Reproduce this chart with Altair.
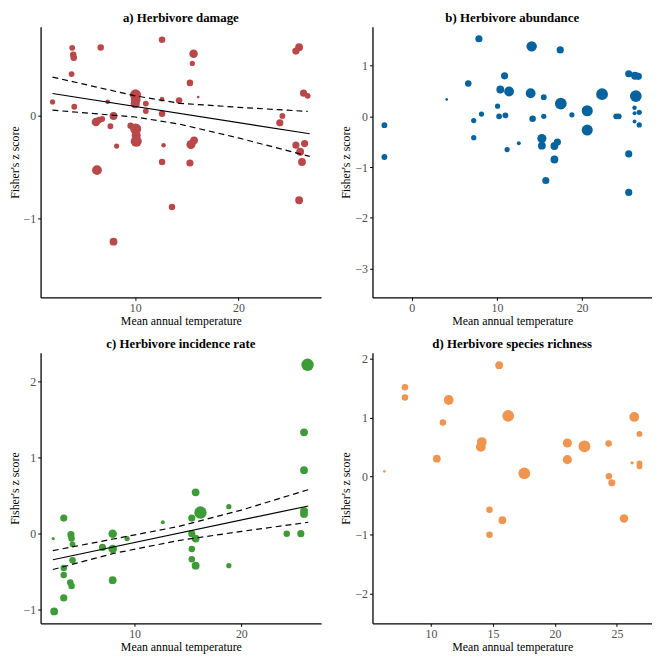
import altair as alt
import pandas as pd

FONT = "Liberation Serif"

# ---------------- a) Herbivore damage ----------------
a_temp = [2.0, 3.9, 4.0, 4.05, 3.84, 4.1, 6.66, 7.34, 6.2, 6.5, 6.8, 7.9, 7.6, 8.2, 6.3, 7.9,
          10.03, 10.05, 10.0, 9.56, 10.05, 10.1, 10.1, 11.03, 11.03, 12.6, 12.6, 12.6, 12.75, 12.6,
          13.56, 14.25, 15.65, 15.53, 15.3, 16.1, 15.4, 15.7, 15.3, 25.87, 25.56, 26.3, 26.7, 24.25,
          24.0, 25.56, 26.4, 25.97, 26.15, 25.87]
a_z = [0.137, 0.667, 0.60, 0.57, 0.41, 0.09, 0.67, 0.14, -0.06, -0.04, -0.03, 0.0, -0.10, -0.295, -0.53, -1.23,
       0.207, 0.16, 0.12, -0.095, -0.127, -0.19, -0.248, 0.121, 0.048, 0.746, 0.165, 0.022, -0.286, -0.45,
       -0.89, 0.152, 0.61, 0.514, 0.324, 0.185, -0.28, -0.238, -0.46, 0.673, 0.635, 0.223, 0.197, 0.0,
       -0.067, -0.286, -0.27, -0.35, -0.45, -0.825]
a_w = [8, 9, 10, 10, 9, 9, 10, 7, 13, 10, 9, 12, 9, 8, 15, 12,
       17, 15, 14, 10, 17, 14, 17, 9, 9, 10, 7, 10, 7, 10,
       10, 10, 13, 8, 10, 4, 14, 12, 11, 12, 11, 11, 9, 9,
       11, 11, 11, 12, 12, 12]
a_fit_x = [1.99, 26.9]
a_fit_y = [0.22, -0.174]
a_up_x = [1.99, 10.0, 14.3, 20.0, 26.7]
a_up_y = [0.381, 0.197, 0.124, 0.085, 0.045]
a_lo_x = [1.99, 10.0, 14.3, 20.0, 26.9]
a_lo_y = [0.057, -0.01, -0.08, -0.215, -0.396]

# ---------------- b) Herbivore abundance ----------------
b_temp = [-3.2, -3.2, 4.11, 6.64, 7.28, 7.28, 7.89, 8.19, 10.08, 10.26, 10.4, 10.9, 11.0, 11.2, 11.43,
          12.57, 14.08, 13.96, 14.19, 15.5, 15.5, 15.28, 15.28, 15.74, 16.75, 17.1, 16.75, 17.43, 17.5,
          18.8, 20.6, 20.6, 22.34, 24.0, 24.3, 25.47, 26.2, 26.6, 26.3, 26.15, 26.15, 26.15, 26.7, 26.7,
          25.47, 25.47]
b_z = [-0.173, -0.80, 0.334, 0.648, -0.083, -0.42, 1.53, 0.045, 0.2, 0.0, 0.53, 0.80, 0.02, -0.655, 0.49,
       -0.53, 1.38, 0.456, -0.045, 0.379, 0.0, -0.437, -0.578, -1.265, -0.584, -0.507, -0.85, 1.31, 0.25,
       0.03, 0.11, -0.27, 0.437, 0.0, 0.0, 0.84, 0.80, 0.79, 0.40, 0.17, 0.06, -0.10, 0.08, -0.17,
       -0.74, -1.50]
b_w = [9, 9, 4, 10, 8, 8, 11, 8, 8, 9, 12, 11, 9, 8, 15,
       6, 16, 15, 10, 9, 8, 14, 12, 11, 12, 11, 12, 11, 18,
       8, 17, 17, 18, 9, 9, 11, 12, 11, 18, 7, 6, 6, 8, 8,
       11, 11]

# ---------------- c) Herbivore incidence rate ----------------
c_temp = [2.38, 2.47, 3.37, 3.37, 3.37, 3.37, 4.04, 4.1, 4.19, 4.19, 3.98, 4.1, 7.0, 7.95, 7.95, 9.3,
          7.95, 12.65, 15.72, 16.17, 15.36, 15.36, 15.72, 15.36, 15.36, 15.72, 18.83, 18.83, 24.25,
          25.57, 25.87, 25.87, 25.87, 25.87, 26.2]
c_z = [-0.064, -1.02, 0.205, -0.45, -0.543, -0.843, -0.013, -0.064, -0.14, -0.35, -0.64, -0.685, -0.18, 0.0,
       -0.2, -0.064, -0.61, 0.15, 0.543, 0.278, 0.205, 0.0, -0.064, -0.2, -0.334, -0.42, 0.355, -0.42, 0.0,
       0.0, 0.26, 0.30, 0.834, 1.33, 2.217]
c_w = [5, 12, 11, 10, 10, 11, 11, 10, 9, 10, 10, 10, 11, 13, 13, 8,
       12, 6, 12, 19, 11, 11, 12, 10, 10, 12, 8, 8, 10,
       11, 12, 12, 12, 12, 19]
c_fit_x = [2.35, 26.27]
c_fit_y = [-0.342, 0.364]
c_up_x = [2.35, 8.0, 14.1, 20.0, 26.27]
c_up_y = [-0.222, -0.07, 0.095, 0.31, 0.578]
c_lo_x = [2.35, 8.0, 14.1, 20.0, 26.27]
c_lo_y = [-0.47, -0.26, -0.09, 0.03, 0.15]

# ---------------- d) Herbivore species richness ----------------
d_temp = [6.24, 7.9, 7.9, 10.47, 10.96, 11.43, 14.1, 14.02, 14.72, 14.72, 15.5, 15.76, 16.23, 17.53,
          21.0, 21.0, 22.38, 24.33, 24.35, 24.59, 25.57, 26.22, 26.4, 26.82, 26.82, 26.82]
d_z = [0.083, 1.517, 1.344, 0.3, 0.917, 1.3, 0.583, 0.5, -0.572, -1.0, 1.894, -0.75, 1.028, 0.05,
       0.567, 0.283, 0.511, 0.556, 0.0, -0.111, -0.722, 0.228, 1.011, 0.722, 0.22, 0.17]
d_w = [4, 10, 10, 12, 10, 15, 15, 15, 10, 10, 12, 12, 18, 18,
       14, 14, 18, 10, 10, 11, 13, 5, 15, 9, 9, 9]

RED = "#B9484A"
BLUE = "#07639E"
GREEN = "#3E9C38"
ORANGE = "#EF9550"

AXIS_X = "Mean annual temperature"
AXIS_Y = "Fisher's z score"


def panel(temp, z, w, title, color, xdom, ydom, xticks, yticks, width, height, fits=None):
    df = pd.DataFrame({"temp": temp, "z": z, "w": w})
    x = alt.X("temp:Q", scale=alt.Scale(domain=xdom, nice=False, zero=False),
              axis=alt.Axis(values=xticks, title=AXIS_X, format="d"))
    y = alt.Y("z:Q", scale=alt.Scale(domain=ydom, nice=False, zero=False),
              axis=alt.Axis(values=yticks, title=AXIS_Y, format="d"))
    pts = alt.Chart(df).mark_circle(color=color, opacity=1).encode(
        x=x, y=y,
        size=alt.Size("w:Q", scale=alt.Scale(type="pow", exponent=2, domain=[0, 20], range=[0, 175]),
                      legend=None),
    )
    layers = [pts]
    if fits:
        for xs, ys, dashed in fits:
            ldf = pd.DataFrame({"temp": xs, "z": ys})
            kw = {"color": "black", "strokeWidth": 1.2}
            if dashed:
                kw["strokeDash"] = [6, 4]
            layers.append(alt.Chart(ldf).mark_line(**kw).encode(
                x=alt.X("temp:Q"), y=alt.Y("z:Q")))
    return alt.layer(*layers).properties(
        width=width, height=height,
        title=alt.TitleParams(title, anchor="middle", frame="group"),
    )


W1, W2, H = 284, 283, 274

pa = panel(a_temp, a_z, a_w, "a) Herbivore damage", RED, [0.84, 28.0], [-1.776, 0.873],
           [10, 20], [-1, 0], W1, H,
           fits=[(a_fit_x, a_fit_y, False), (a_up_x, a_up_y, True), (a_lo_x, a_lo_y, True)])
pb = panel(b_temp, b_z, b_w, "b) Herbivore abundance", BLUE, [-4.6, 28.2], [-3.57, 1.766],
           [0, 10, 20], [-3, -2, -1, 0, 1], W2, H)
pc = panel(c_temp, c_z, c_w, "c) Herbivore incidence rate", GREEN, [1.2, 27.47], [-1.177, 2.375],
           [10, 20], [-1, 0, 1, 2], W1, H,
           fits=[(c_fit_x, c_fit_y, False), (c_up_x, c_up_y, True), (c_lo_x, c_lo_y, True)])
pd_ = panel(d_temp, d_z, d_w, "d) Herbivore species richness", ORANGE, [5.28, 27.83], [-2.51, 2.106],
            [10, 15, 20, 25], [-2, -1, 0, 1, 2], W2, H)

chart = alt.vconcat(
    alt.hconcat(pa, pb, spacing=19),
    alt.hconcat(pc, pd_, spacing=19),
    spacing=12,
).properties(
    padding={"left": 0, "top": 0, "right": 0, "bottom": 0}
).configure_view(
    stroke=None
).configure_axis(
    grid=False,
    domainColor="black", domainWidth=1.3,
    tickColor="black", tickSize=3, tickWidth=1,
    labelFont=FONT, labelFontSize=12, labelColor="#4d4d4d", labelPadding=2,
    titleFont=FONT, titleFontSize=12, titleFontWeight="normal", titleColor="black", titlePadding=2,
).configure_title(
    font=FONT, fontSize=13, fontWeight="bold", color="black", offset=2
)

chart.save("out.html", embed_options={"renderer": "svg", "actions": False})
